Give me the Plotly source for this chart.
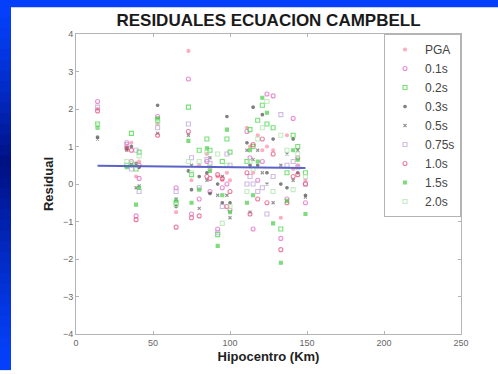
import plotly.graph_objects as go

# ---------------- data ----------------
DIST = [14, 33, 36, 39, 41, 53, 65, 73, 75, 80, 85, 87, 92, 95, 98, 100,
        111, 113, 115, 118, 121, 124, 128, 133, 137, 141, 144, 149]

SERIES_NAMES = ["PGA", "0.1s", "0.2s", "0.3s", "0.5s", "0.75s", "1.0s", "1.5s", "2.0s"]

RES_PGA  = [2.0, 1.0, 1.1, 0.2, 0.6, 1.6, -0.75, 3.55, 0.1, 0.5, 0.8, 0.4, 0.2, 0.1, 0.3, 0.1,
            1.5, 1.0, 0.3, 1.3, 0.9, 1.0, 0.9, -0.9, 1.3, 0.4, 0.5, 0.1]
RES_01   = [2.2, 1.1, 0.6, -0.85, 0.15, 1.8, -0.1, 2.8, -0.8, -0.4, 0.6, -0.2, -1.2, -0.1, 0.0, -0.7,
            1.4, 0.7, -1.2, 0.1, 0.6, 2.4, 2.35, -1.45, -0.4, 1.75, 0.7, -0.5]
RES_02   = [1.6, 0.5, 1.35, 0.4, 0.85, 1.7, -0.5, 2.05, 0.25, 0.9, 1.2, 0.9, -1.35, 0.6, 1.2, 0.85,
            0.6, 1.45, 1.0, 1.7, 2.1, 1.6, 1.5, -1.2, 0.3, 1.3, 1.0, 0.3]
RES_03   = [1.25, 0.95, 1.0, 0.55, 0.45, 2.1, -0.6, 0.35, -0.15, 0.2, 0.3, -0.25, 0.0, -0.5, 1.8, -0.5,
            1.1, 0.5, 2.05, 0.5, 1.85, 0.3, 1.2, 0.0, -0.1, 1.2, 0.3, -0.3]
RES_05   = [1.2, 0.9, 0.5, -0.1, -0.05, 1.35, -0.4, 1.3, 0.5, -0.65, 0.1, 0.7, -0.3, 0.2, -0.3, -0.9,
            0.9, -0.75, 0.65, 0.9, 0.3, 0.0, -0.5, 0.5, 0.8, 0.1, 0.9, -0.35]
RES_075  = [2.05, 1.05, 0.4, 0.9, -0.2, 1.5, -0.2, 1.6, 0.7, -0.1, 0.65, 0.55, -1.3, -0.6, 0.8, 0.5,
            0.0, 0.2, 0.0, -0.2, -0.1, -0.8, 0.2, 1.85, 0.5, 0.6, 0.45, 0.0]
RES_10   = [1.95, 0.95, 0.9, -0.95, 0.5, 1.3, -1.15, 1.4, -0.9, -0.85, 0.2, 0.15, 0.25, 0.15, -0.6, -0.2,
            0.3, -0.8, 1.05, -0.4, 1.2, -0.5, 0.8, -1.75, -0.5, 0.2, 0.25, 0.0]
RES_15   = [1.5, 0.45, 0.5, -0.55, -0.1, 1.75, -0.45, 1.15, -0.5, -0.15, 0.95, 0.35, -1.65, -0.3, 1.45, -0.75,
            -0.5, 0.9, -0.3, 0.6, 2.3, 1.9, -1.05, -2.1, -0.45, 0.9, 0.65, -0.8]
RES_20   = [1.55, 0.6, 0.55, 0.5, 0.75, 1.65, -0.55, 0.6, 0.3, 0.6, 0.85, 0.45, 0.8, -1.05, 0.5, -0.6,
            -0.2, 0.6, 0.4, 1.2, 1.5, 2.2, -0.2, 1.3, 0.9, -0.15, 0.8, 0.2]

LINE_X = [14, 149]
LINE_Y = [0.49, 0.43]

X_TICKS = [0, 50, 100, 150, 200, 250]
Y_TICKS = [-4, -3, -2, -1, 0, 1, 2, 3, 4]

# ---------------- styles ----------------
ALL_RES = [RES_PGA, RES_01, RES_02, RES_03, RES_05, RES_075, RES_10, RES_15, RES_20]
STYLES = [
    dict(symbol="circle", color="#ff8aa4", size=3),
    dict(symbol="circle-open", color="#e060c0", size=4),
    dict(symbol="square-open", color="#3ad63a", size=4),
    dict(symbol="circle", color="#4a4a4a", size=2.5),
    dict(symbol="x-thin-open", color="#666666", size=3),
    dict(symbol="square-open", color="#bca0d8", size=4),
    dict(symbol="circle-open", color="#e44a78", size=4),
    dict(symbol="square", color="#48cc48", size=3),
    dict(symbol="square-open", color="#a8e6a8", size=4),
]

fig = go.Figure()
for name, vals, st in zip(SERIES_NAMES, ALL_RES, STYLES):
    fig.add_trace(go.Scatter(
        x=DIST, y=vals, mode="markers", name=name,
        marker=dict(symbol=st["symbol"], color=st["color"], size=st["size"],
                    line=dict(color=st["color"], width=1.1)),
        opacity=0.7,
    ))

fig.add_trace(go.Scatter(x=LINE_X, y=LINE_Y, mode="lines", showlegend=False,
                         line=dict(color="#5a62c8", width=2)))

W, H = 498, 374
ML, MR, MT, MB = 76, 37, 34, 36
PW, PH = W - ML - MR, H - MT - MB

def px(p):
    return (p - ML) / PW

def py(p):
    return (H - MB - p) / PH

shapes = []
# top blue strip of the slide
shapes.append(dict(type="rect", xref="paper", yref="paper", layer="above",
                   x0=px(-2), x1=px(W + 2), y0=py(7), y1=py(-2),
                   fillcolor="#0440fa", line=dict(width=0)))
# left blue strip with vertical gradient (dark in the middle)
N = 34
top_c = (4, 64, 250)
mid_c = (0, 16, 130)
step = (H - 7) / N
for i in range(N):
    p0 = 7 + i * step
    p1 = p0 + step
    c = (p0 + p1) / 2
    cm = 165.0
    if c < cm:
        t = (c - 7) / (cm - 7)
    else:
        t = (H - c) / (H - cm)
    t = max(0.0, min(1.0, t)) ** 1.3
    col = tuple(int(round(top_c[k] + (mid_c[k] - top_c[k]) * t)) for k in range(3))
    shapes.append(dict(type="rect", xref="paper", yref="paper", layer="above",
                       x0=px(-2), x1=px(11), y0=py(p1 + 0.6), y1=py(p0 - 0.6),
                       fillcolor="rgb(%d,%d,%d)" % col, line=dict(width=0)))

axis_common = dict(showline=True, mirror="ticks", linecolor="#b4b4b4", linewidth=1,
                   ticks="inside", ticklen=3, tickcolor="#b4b4b4",
                   showgrid=False, zeroline=False,
                   tickfont=dict(family="Arial", size=9, color="#666666"))

fig.update_layout(
    width=W, height=H,
    margin=dict(l=ML, r=MR, t=MT, b=MB),
    paper_bgcolor="white", plot_bgcolor="white",
    shapes=shapes,
    title=dict(text="<b>RESIDUALES ECUACION CAMPBELL</b>", x=0.5, xref="paper", xanchor="center",
               y=1 - 20 / H, yanchor="middle", yref="container",
               font=dict(family="Arial", size=17, color="#1a1a1a")),
    xaxis=dict(range=[0, 250], tickvals=X_TICKS,
               title=dict(text="<b>Hipocentro (Km)</b>", standoff=5,
                          font=dict(family="Arial", size=13, color="#222222")),
               **axis_common),
    yaxis=dict(range=[-4, 4], tickvals=Y_TICKS,
               title=dict(text="<b>Residual</b>", standoff=6,
                          font=dict(family="Arial", size=13, color="#222222")),
               **axis_common),
    legend=dict(x=1, xanchor="right", y=1, yanchor="top",
                bgcolor="white", bordercolor="#b4b4b4", borderwidth=1,
                font=dict(family="Arial", size=12, color="#444444"),
                itemsizing="trace", tracegroupgap=0),
    showlegend=True,
)

fig.write_html("out.html")
